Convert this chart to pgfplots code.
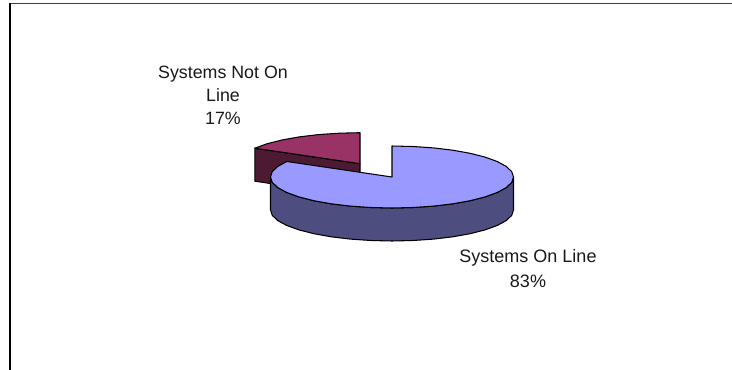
\documentclass[border=0pt]{standalone}
\usepackage{pgfplots}
\pgfplotsset{compat=1.18}
\usepackage{fontspec}
\setmainfont{Liberation Sans}
\definecolor{onTop}{HTML}{9999FF}
\definecolor{onSide}{HTML}{4D4D80}
\definecolor{offTop}{HTML}{993366}
\definecolor{offSide}{HTML}{4D1A33}
\begin{document}
\begin{tikzpicture}
\begin{axis}[
  at={(0,0)}, anchor=south west,
  hide axis, scale only axis, width=732pt, height=370pt,
  xmin=0, xmax=732, ymin=0, ymax=370, y dir=reverse, clip=true,
  every axis plot/.append style={line width=1.05pt, line join=round},
]
% chart frame: top and left rules
\addplot[draw=black!75, line width=1.6pt, forget plot] coordinates {(10,3.5) (732,3.5)};
\addplot[draw=black, line width=1.1pt, forget plot] coordinates {(10,3) (10,370)};

% Systems Not On Line: cut face, then top face
\addplot[draw=black, fill=offSide, forget plot] coordinates {
  (254.8,148.2) (360,163.7) (360,196.7) (254.8,181.2)} -- cycle;
\addplot[draw=black, fill=offTop, forget plot] coordinates {
  (360,163.7) (254.8,148.2) (266.9,143.8) (281.9,140.0) (299.2,136.9)
  (318.4,134.6) (338.9,133.2) (360,132.7)} -- cycle;

% Systems On Line: rim, then top face
\addplot[draw=black, fill=onSide, forget plot] coordinates {
  (513.5,177) (511.7,182.4) (506.2,187.6) (497.2,192.5) (485.1,196.9)
  (470.1,200.7) (452.8,203.8) (433.6,206.1) (413.1,207.5) (392,208)
  (370.9,207.5) (350.4,206.1) (331.2,203.8) (313.9,200.7) (298.9,196.9)
  (286.8,192.5) (277.8,187.6) (272.3,182.4) (270.5,177)
  (270.5,210) (272.3,215.4) (277.8,220.6) (286.8,225.5) (298.9,229.9)
  (313.9,233.7) (331.2,236.8) (350.4,239.1) (370.9,240.5) (392,241)
  (413.1,240.5) (433.6,239.1) (452.8,236.8) (470.1,233.7) (485.1,229.9)
  (497.2,225.5) (506.2,220.6) (511.7,215.4) (513.5,210)} -- cycle;
\addplot[draw=black, fill=onTop, forget plot] coordinates {
  (392,177) (392,146) (413.1,146.5) (433.6,147.9) (452.8,150.2) (470.1,153.3)
  (485.1,157.1) (497.2,161.5) (506.2,166.4) (511.7,171.6) (513.5,177)
  (511.7,182.4) (506.2,187.6) (497.2,192.5) (485.1,196.9) (470.1,200.7)
  (452.8,203.8) (433.6,206.1) (413.1,207.5) (392,208) (370.9,207.5)
  (350.4,206.1) (331.2,203.8) (313.9,200.7) (298.9,196.9) (286.8,192.5)
  (277.8,187.6) (272.3,182.4) (270.5,177) (272.3,171.6) (277.8,166.4)
  (286.8,161.5)} -- cycle;

\node[font=\fontsize{17.8}{23}\selectfont, align=center, text=black!90] at (axis cs:223,95)
  {Systems Not On\\Line\\17\%};
\node[font=\fontsize{18}{25}\selectfont, align=center, text=black!90] at (axis cs:528,269)
  {Systems On Line\\83\%};
\end{axis}
\path[use as bounding box] (0,0) rectangle (732pt,370pt);
\end{tikzpicture}
\end{document}
